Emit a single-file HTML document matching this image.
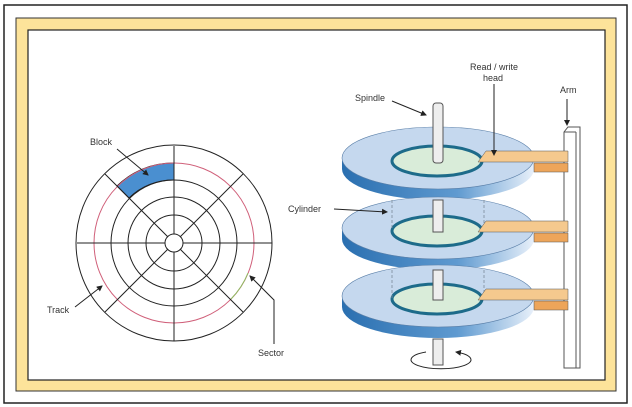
<!DOCTYPE html>
<html><head><meta charset="utf-8"><style>
body{margin:0;background:#fff;width:632px;height:407px;overflow:hidden}
svg{display:block}
text{font-family:"Liberation Sans",sans-serif;font-size:9px;fill:#333}
</style></head><body>
<svg width="632" height="407" viewBox="0 0 632 407">
<defs>
<linearGradient id="edge" x1="0" x2="1"><stop offset="0" stop-color="#2a6fb0"/><stop offset="0.6" stop-color="#5f9ad0"/><stop offset="1" stop-color="#e8f0fa"/></linearGradient>
<marker id="ar" markerWidth="6" markerHeight="6" refX="5" refY="3" orient="auto"><path d="M0,0L6,3L0,6z" fill="#222"/></marker>
</defs>
<rect x="4" y="5" width="623" height="398" fill="#fff" stroke="#222" stroke-width="1.5"/>
<rect x="16" y="18" width="600" height="373" fill="#fde39a" stroke="#333" stroke-width="1"/>
<rect x="28" y="30" width="577" height="350" fill="#fff" stroke="#222" stroke-width="1.2"/>

<g fill="none" stroke="#222" stroke-width="1">
<path d="M174,163 A80,80 0 0 0 117,186 L129,198 A63,63 0 0 1 174,180 Z" fill="#4a8fd0" stroke="#222"/>
<ellipse cx="174" cy="243" rx="98" ry="98"/>
<ellipse cx="174" cy="243" rx="80" ry="80" stroke="#d0607a"/>
<path d="M248,273 A80,80 0 0 1 231,299" stroke="#8cc060"/>
<circle cx="174" cy="243" r="63"/>
<circle cx="174" cy="243" r="46"/>
<circle cx="174" cy="243" r="28"/>
<circle cx="174" cy="243" r="9" fill="#fff"/>
<path d="M174,146V234M174,252V341M77,243H165M183,243H272M105,174L168,237M180,249L243,312M243,174L180,237M168,249L105,312"/>
</g>
<text x="90" y="145">Block</text>
<line x1="117" y1="149" x2="148" y2="175" stroke="#222" marker-end="url(#ar)"/>
<text x="47" y="313">Track</text>
<line x1="75" y1="307" x2="102" y2="286" stroke="#222" marker-end="url(#ar)"/>
<text x="258" y="356">Sector</text>
<polyline points="274,344 274,300 250,276" fill="none" stroke="#222" marker-end="url(#ar)"/>

<g>
<path d="M564,132 L568,127 H580 V368 H564 Z" fill="#fff" stroke="#555"/>
<line x1="564" y1="132" x2="576" y2="132" stroke="#555"/><line x1="576" y1="132" x2="576" y2="368" stroke="#555"/>
</g>

<g>
<g id="p1">
<path d="M342,158 v11 a96,31 0 0 0 192,0 v-11z" fill="url(#edge)"/>
<ellipse cx="438" cy="158" rx="96" ry="31" fill="#c5d8ee" stroke="#5a7fa8" stroke-width="0.6"/>
<ellipse cx="437" cy="161" rx="45" ry="15" fill="#d9ecd9" stroke="#1d6b8a" stroke-width="3"/>
</g>
<use href="#p1" y="70"/>
<use href="#p1" y="138"/>
</g>
<g stroke="#7a8a9a" stroke-dasharray="3,2" stroke-width="0.8">
<line x1="392" y1="200" x2="392" y2="230"/><line x1="484" y1="200" x2="484" y2="230"/>
<line x1="392" y1="270" x2="392" y2="298"/><line x1="484" y1="270" x2="484" y2="298"/>
</g>
<g>
<rect x="433" y="103" width="10" height="60" rx="3" fill="#eee" stroke="#555"/>
<rect x="433" y="200" width="10" height="32" fill="#eee" stroke="#555"/>
<rect x="433" y="270" width="10" height="30" fill="#eee" stroke="#555"/>
<rect x="433" y="339" width="10" height="26" fill="#eee" stroke="#555"/>
<path d="M426,352 A30,9 0 1 0 456,352" fill="none" stroke="#222" marker-end="url(#ar)"/>
</g>
<g>
<g id="h1">
<path d="M478,162 L486,151 H568 V162 Z" fill="#f5c98e" stroke="#555" stroke-width="0.5"/>
<rect x="534" y="163" width="34" height="9" fill="#eda55a" stroke="#555" stroke-width="0.5"/>
</g>
<use href="#h1" y="70"/>
<use href="#h1" y="138"/>
</g>
<text x="355" y="101">Spindle</text>
<line x1="392" y1="101" x2="426" y2="115" stroke="#222" marker-end="url(#ar)"/>
<text x="470" y="70">Read / write</text>
<text x="483" y="81">head</text>
<line x1="494" y1="84" x2="494" y2="155" stroke="#222" marker-end="url(#ar)"/>
<text x="560" y="93">Arm</text>
<line x1="567" y1="99" x2="567" y2="125" stroke="#222" marker-end="url(#ar)"/>
<text x="288" y="212">Cylinder</text>
<line x1="334" y1="209" x2="387" y2="212" stroke="#222" marker-end="url(#ar)"/>
</svg>
</body></html>
